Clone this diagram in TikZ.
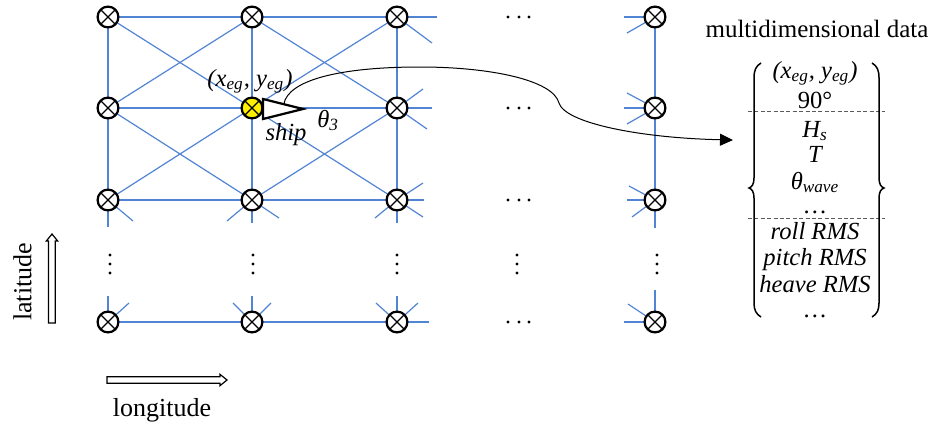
\documentclass[tikz,border=0pt]{standalone}
\usepackage{fontspec}
\setmainfont{Liberation Serif}
\usetikzlibrary{calc,arrows.meta}
\pgfdeclarelayer{bg}
\pgfsetlayers{bg,main}
\definecolor{gridblue}{RGB}{82,132,212}
\definecolor{sepgray}{RGB}{90,90,90}
\definecolor{shipyellow}{RGB}{255,238,0}

\tikzset{
  bluelink/.style={gridblue, line width=0.6pt},
  station/.style={circle, draw=black, line width=1.1pt, fill=white,
    minimum size=10.4pt, inner sep=0pt,
    path picture={\draw[line width=0.65pt]
      (path picture bounding box.north east) -- (path picture bounding box.south west)
      (path picture bounding box.north west) -- (path picture bounding box.south east);}},
  hull/.style={draw=black, line width=1.1pt, fill=white, line join=miter},
  varlbl/.style={font=\fontsize{12.3}{14}\selectfont\itshape, inner sep=0pt},
  plainlbl/.style={font=\fontsize{12.5}{15}\selectfont, inner sep=0pt},
  axislbl/.style={font=\fontsize{13}{15}\selectfont, inner sep=0pt},
  hollowarrow/.style={draw=black, line width=0.6pt, fill=white, line join=miter},
  fence/.style={draw=black, line width=0.75pt},
  sepline/.style={sepgray, line width=0.5pt, dash pattern=on 2pt off 1.2pt},
  feed/.style={black, line width=0.5pt, -{Triangle[length=6.5pt,width=6pt]}},
}

\begin{document}
\begin{tikzpicture}[x=0.5pt,y=-0.5pt]
\useasboundingbox (0,0) rectangle (935,428);

% ---- grid stations ----
\node[station] (A1) at (108,17) {};
\node[station] (B1) at (252,17) {};
\node[station] (C1) at (397,17) {};
\node[station] (R1) at (655,17) {};
\node[station] (A2) at (108,108) {};
\node[station, fill=shipyellow] (B2) at (252,108) {};
\node[station] (C2) at (397,108) {};
\node[station] (R2) at (655,108) {};
\node[station] (A3) at (108,200) {};
\node[station] (B3) at (252,200) {};
\node[station] (C3) at (397,200) {};
\node[station] (R3) at (655,200) {};
\node[station] (A5) at (108,322) {};
\node[station] (B5) at (252,322) {};
\node[station] (C5) at (397,322) {};
\node[station] (R5) at (655,322) {};

% ---- grid links ----
\begin{pgfonlayer}{bg}
  % rows
  \draw[bluelink] (A1.center) -- (B1.center) -- (C1.center) -- ++(40,0);
  \draw[bluelink] (A2.center) -- (B2.center) -- (C2.center) -- ++(35,0);
  \draw[bluelink] (A3.center) -- (B3.center) -- (C3.center) -- ++(27,0);
  \draw[bluelink] (A5.center) -- (B5.center) -- (C5.center) -- ++(32,0);
  % columns
  \draw[bluelink] (A1.center) -- (A2.center) -- (A3.center) -- ++(0,27);
  \draw[bluelink] (B1.center) -- (B2.center) -- (B3.center) -- ++(0,23);
  \draw[bluelink] (C1.center) -- (C2.center) -- (C3.center) -- ++(0,23);
  \draw[bluelink] (R1.center) -- (R2.center) -- (R3.center) -- ++(0,28);
  % diagonals
  \draw[bluelink] (A1.center) -- (B2.center) -- (C3.center);
  \draw[bluelink] (B1.center) -- (A2.center);
  \draw[bluelink] (A2.center) -- (B3.center);
  \draw[bluelink] (B2.center) -- (A3.center);
  \draw[bluelink] (B1.center) -- (C2.center);
  \draw[bluelink] (C1.center) -- (B2.center);
  \draw[bluelink] (C2.center) -- (B3.center);
  % short stubs, right of column C
  \draw[bluelink] (C1.center) -- ++(35,26);
  \draw[bluelink] (C2.center) -- ++(26,-19);
  \draw[bluelink] (C2.center) -- ++(30,21);
  \draw[bluelink] (C3.center) -- ++(26,-17);
  \draw[bluelink] (C3.center) -- ++(26,17);
  % short stubs below row 3
  \draw[bluelink] (A3.center) -- ++(25,21);
  \draw[bluelink] (B3.center) -- ++(-25,21);
  \draw[bluelink] (B3.center) -- ++(27,18);
  \draw[bluelink] (C3.center) -- ++(-22,18);
  % short stubs above the bottom row
  \draw[bluelink] (A5.center) -- ++(0,-26);
  \draw[bluelink] (A5.center) -- ++(21,-19);
  \draw[bluelink] (B5.center) -- ++(0,-26);
  \draw[bluelink] (B5.center) -- ++(-19,-19);
  \draw[bluelink] (B5.center) -- ++(19,-19);
  \draw[bluelink] (C5.center) -- ++(0,-26);
  \draw[bluelink] (C5.center) -- ++(-21,-19);
  \draw[bluelink] (C5.center) -- ++(21,-19);
  % short stubs, left of column R
  \draw[bluelink] (R1.center) -- ++(-31,0);
  \draw[bluelink] (R1.center) -- ++(-28,16);
  \draw[bluelink] (R2.center) -- ++(-28,-15);
  \draw[bluelink] (R2.center) -- ++(-31,0);
  \draw[bluelink] (R2.center) -- ++(-28,16);
  \draw[bluelink] (R3.center) -- ++(-26,-14);
  \draw[bluelink] (R3.center) -- ++(-28,0);
  \draw[bluelink] (R3.center) -- ++(-23,17);
  \draw[bluelink] (R5.center) -- ++(0,-32);
  \draw[bluelink] (R5.center) -- ++(-27,-18);
  \draw[bluelink] (R5.center) -- ++(-31,0);
\end{pgfonlayer}

% ---- ellipsis dots ----
\foreach \y in {17,108,200,322}{
  \foreach \x in {508,519,529}{
    \fill (\x,\y) circle[radius=0.85pt];
  }
}
\foreach \x in {110,253,397,517,657}{
  \foreach \y in {255,264,273}{
    \fill (\x,\y) circle[radius=0.85pt];
  }
}

% ---- ship at the selected station ----
\coordinate (sternT) at (263,99);
\coordinate (sternB) at (263,119);
\coordinate (bow) at (303,109);
\draw[hull] (sternT) -- (bow) -- (sternB) -- cycle;
\coordinate (mast) at ($(sternT)!0.52!(bow)$);

\node[varlbl, anchor=base] (loc) at (250,86) {(x\textsubscript{eg}, y\textsubscript{eg})};
\node[varlbl, anchor=base] (shiplbl) at (286,140) {ship};
\node[varlbl, anchor=base west] (heading) at (317,127) {θ\textsubscript{3}};

% ---- data vector ----
\node[plainlbl, anchor=base] (title) at (817,37) {multidimensional data};
\node[varlbl, anchor=base] (m1) at (815,78) {(x\textsubscript{eg}, y\textsubscript{eg})};
\node[varlbl, anchor=base] (m2) at (815,108) {\upshape 90°};
\node[varlbl, anchor=base] (m3) at (815,137) {H\textsubscript{s}};
\node[varlbl, anchor=base] (m4) at (815,162) {T};
\node[varlbl, anchor=base] (m5) at (815,189) {θ\textsubscript{wave}};
\node[varlbl, anchor=base] (m6) at (815,213) {\upshape …};
\node[varlbl, anchor=base] (m7) at (815,239) {roll RMS};
\node[varlbl, anchor=base] (m8) at (815,265) {pitch RMS};
\node[varlbl, anchor=base] (m9) at (815,292) {heave RMS};
\node[varlbl, anchor=base] (m10) at (815,317) {\upshape …};

\draw[sepline] (748,111) -- (885,111);
\draw[sepline] (748,218) -- (885,218);

\draw[fence] (761,63) .. controls (756,66) and (754,70) .. (754,78) -- (754,178)
  .. controls (754,184) and (752,187) .. (749,188)
  .. controls (752,189) and (754,192) .. (754,198) -- (754,303)
  .. controls (754,310) and (756,314) .. (761,317);
\draw[fence] (872,63) .. controls (877,66) and (879,70) .. (879,78) -- (879,178)
  .. controls (879,184) and (881,187) .. (884,188)
  .. controls (881,189) and (879,192) .. (879,198) -- (879,303)
  .. controls (879,310) and (877,314) .. (872,317);

\coordinate (inlet) at (733,140);
\draw[feed] (mast) .. controls (288,80) and (340,67) .. (420,67)
  .. controls (490,67) and (553,80) .. (559,103)
  .. controls (565,123) and (640,138) .. (inlet);

% ---- axis arrows ----
\draw[hollowarrow] (48.5,323) -- (48.5,241) -- (46.3,241) -- (52,234)
  -- (57.7,241) -- (55.3,241) -- (55.3,323) -- cycle;
\node[axislbl, rotate=90] (lat) at (22.5,282) {latitude};

\draw[hollowarrow] (107,376.7) -- (220,376.7) -- (220,374.3) -- (227,380)
  -- (220,385.7) -- (220,383.3) -- (107,383.3) -- cycle;
\node[axislbl, anchor=base] (lon) at (162,416) {longitude};
\end{tikzpicture}
\end{document}
